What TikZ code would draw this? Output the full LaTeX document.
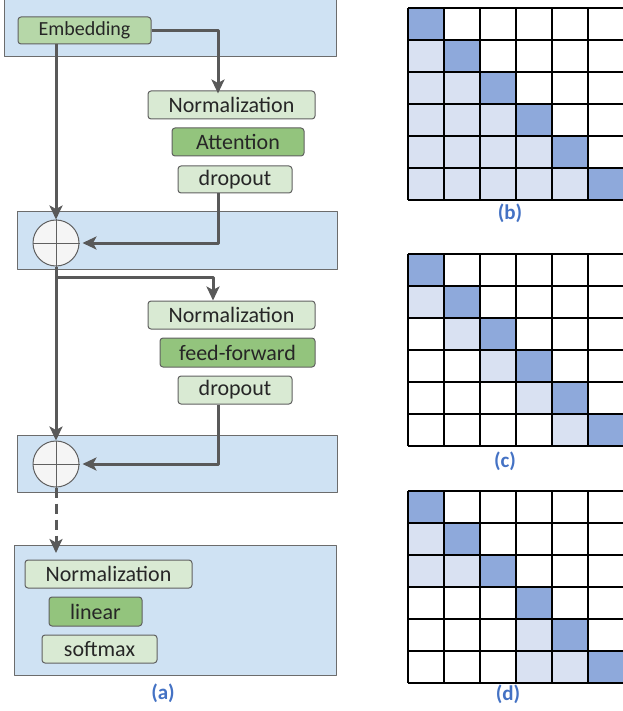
\documentclass[tikz,border=0pt]{standalone}
\usepackage{fontspec}
\setmainfont{Carlito}
\usetikzlibrary{arrows.meta}
\usetikzlibrary{positioning}

\definecolor{layerblue}{HTML}{CFE2F3}
\definecolor{lightgreen}{HTML}{D9EAD3}
\definecolor{midgreen}{HTML}{B6D7A8}
\definecolor{darkgreen}{HTML}{93C47D}
\definecolor{wiregray}{HTML}{595959}
\definecolor{celldark}{HTML}{8EA9DB}
\definecolor{celllight}{HTML}{D9E1F2}
\definecolor{capblue}{HTML}{4472C4}

\begin{document}
\begin{tikzpicture}[x=1pt,y=-1pt,>={Stealth[length=14pt,width=13pt,inset=3.5pt]},line join=round,
    layer/.style={draw=gray!85!black,fill=layerblue,line width=1pt},
    op/.style={draw=gray!75!black,line width=1pt,rounded corners=3pt,fill=lightgreen,inner sep=0pt,
        minimum height=28pt,text=black!85,font=\fontsize{22}{25}\selectfont},
    core/.style={op,fill=darkgreen},
    addop/.style={circle,draw=gray!75!black,fill=gray!8,line width=1pt,minimum size=46pt,inner sep=0pt},
    wire/.style={draw=wiregray,line width=3pt},
    sublabel/.style={font=\bfseries\fontsize{21}{24}\selectfont,text=capblue},
    gridline/.style={line width=1.2pt}]
        \useasboundingbox (0,0) rectangle (622,711);

        \draw[layer] (4,-2) rectangle (336,57);
        \draw[layer] (17,212) rectangle (337,269);
        \draw[layer] (17,435) rectangle (337,492);
        \draw[layer] (14,545) rectangle (336,675);

        \node[op,fill=midgreen,minimum width=133pt,minimum height=27pt,font=\fontsize{20}{23}\selectfont] (emb) at (84.5,30.5) {Embedding};
        \node[op,minimum width=167pt] (norm1) at (231.5,105) {Normalization};
        \node[core,minimum width=132pt] (att) at (238,142) {Attention};
        \node[op,minimum width=114pt,minimum height=27pt] (drop1) at (235,179.5) {dropout};
        \node[op,minimum width=167pt] (norm2) at (231.5,315) {Normalization};
        \node[core,minimum width=155pt,minimum height=29pt] (ff) at (237.5,352.5) {feed-forward};
        \node[op,minimum width=114pt] (drop2) at (235,390) {dropout};
        \node[op,minimum width=167pt] (norm3) at (108.5,574) {Normalization};
        \node[core,minimum width=93pt,minimum height=29pt] (lin) at (95.5,611.5) {linear};
        \node[op,minimum width=115pt] (soft) at (99.5,649) {softmax};

        \node[addop] (plus1) at (56,243) {};
        \node[addop] (plus2) at (56,464) {};
        \draw[gray!75!black,line width=1pt] (plus1.north) -- (plus1.south) (plus1.west) -- (plus1.east);
        \draw[gray!75!black,line width=1pt] (plus2.north) -- (plus2.south) (plus2.west) -- (plus2.east);

        \coordinate (branch) at (218,0);
        \coordinate (branch2) at (213,0);
        \coordinate (split) at (56,277);
        \coordinate (out) at (56,553);

        \draw[wire,->] (plus1 |- emb.south) -- (plus1.north);
        \draw[wire,->] (emb.east) -| ([yshift=-3pt]branch |- norm1.north);
        \draw[wire,->,shorten >=3pt] (branch |- drop1.south) |- (plus1.east);
        \draw[wire] (plus1.south) -- (split);
        \draw[wire,->] (split) -| (branch2 |- norm2.north);
        \draw[wire,->] (split) -- (plus2.north);
        \draw[wire,->,shorten >=3pt] (branch |- drop2.south) |- (plus2.east);
        \draw[wire,->,dash pattern=on 10pt off 6pt] (plus2.south) -- (out);

        \node[sublabel] (capa) at (163,693) {(a)};

        % mask (b)
        \foreach \c/\r in {0/1,0/2,1/2,0/3,1/3,2/3,0/4,1/4,2/4,3/4,0/5,1/5,2/5,3/5,4/5}
            \fill[celllight] ({408+36*\c},{8+32*\r}) rectangle ++(36,32);
        % mask (c)
        \foreach \c/\r in {0/1,1/2,2/3,3/4,4/5}
            \fill[celllight] ({408+36*\c},{254+32*\r}) rectangle ++(36,32);
        % mask (d)
        \foreach \c/\r in {0/1,0/2,1/2,3/4,3/5,4/5}
            \fill[celllight] ({408+36*\c},{491+32*\r}) rectangle ++(36,32);
        \foreach \top in {8,254,491} {
            \foreach \i in {0,...,5}
                \fill[celldark] ({408+36*\i},{\top+32*\i}) rectangle ++(36,32);
            \foreach \k in {0,...,6} {
                \draw[gridline] ({408+36*\k},\top) -- ++(0,192);
                \draw[gridline] (408,{\top+32*\k}) -- ++(216,0);
            }
        }

        \node[sublabel] (capb) at (510,213) {(b)};
        \node[sublabel] (capc) at (505,461) {(c)};
        \node[sublabel] (capd) at (508,694) {(d)};
\end{tikzpicture}
\end{document}
